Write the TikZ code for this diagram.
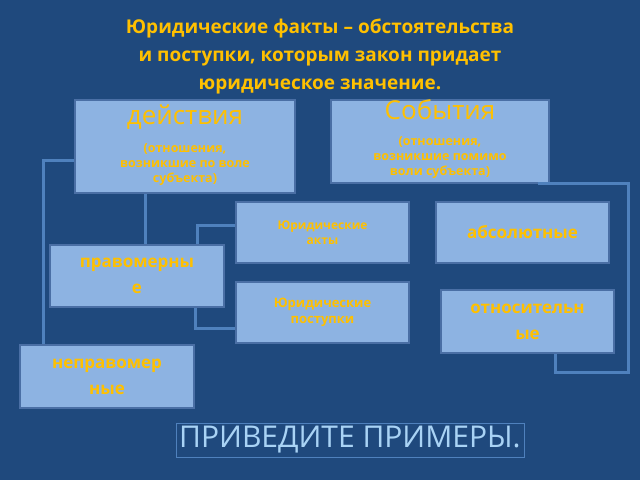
\documentclass[tikz,border=0pt]{standalone}
\usepackage{fontspec}
\setmainfont{Open Sans}
\definecolor{bg}{HTML}{1F497D}
\definecolor{bx}{HTML}{8DB3E2}
\definecolor{bd}{HTML}{4A6FA5}
\definecolor{gold}{HTML}{FFC000}
\definecolor{ln}{HTML}{4F81BD}
\definecolor{lb}{HTML}{A9D3F5}
\begin{document}
\begin{tikzpicture}[x=1pt,y=-1pt,
  box/.style={draw=bd,line width=1.5pt,fill=bx,text=gold,font=\bfseries,align=center,inner sep=0pt},
  con/.style={draw=ln,line width=3pt}]
\useasboundingbox[fill=bg] (0,0) rectangle (640,480);
\node[text=gold,font=\bfseries\fontsize{19}{28}\selectfont,align=center] (title) at (320,56)
 {Юридические факты – обстоятельства\\и поступки, которым закон придает\\юридическое значение.};
% boxes
\node[box,minimum width=220,minimum height=93] (d) at (185,146.5) {};
\node[text=gold,font=\fontsize{26}{26}\selectfont] (dt) at (185,117) {действия};
\node[text=gold,font=\bfseries\fontsize{12.5}{15}\selectfont,align=center] (ds) at (185,165) {(отношения,\\возникшие по воле\\субъекта)};
\node[box,minimum width=218,minimum height=83] (s) at (440,141.5) {};
\node[text=gold,font=\fontsize{26}{26}\selectfont] (st) at (440,110) {События};
\node[text=gold,font=\bfseries\fontsize{12.5}{15}\selectfont,align=center] (ss) at (440,158) {(отношения,\\возникшие помимо\\воли субъекта)};
\node[box,minimum width=173,minimum height=61,font=\bfseries\fontsize{12}{15}\selectfont] (ja) at (322.5,232.5) {Юридические\\акты};
\node[box,minimum width=173,minimum height=61,font=\bfseries\fontsize{17}{20}\selectfont] (ab) at (522.5,232.5) {абсолютные};
\node[box,minimum width=174,minimum height=62,font=\bfseries\fontsize{17}{26}\selectfont] (pr) at (137,276) {правомерны\\е};
\node[box,minimum width=173,minimum height=61,font=\bfseries\fontsize{13}{16}\selectfont] (jp) at (322.5,312.5) {Юридические\\поступки};
\node[box,minimum width=173,minimum height=63,font=\bfseries\fontsize{17}{26}\selectfont] (ot) at (527.5,321.5) {относительн\\ые};
\node[box,minimum width=174,minimum height=63,font=\bfseries\fontsize{17}{26}\selectfont] (np) at (107,376.5) {неправомер\\ные};
% connectors
\coordinate (c1) at (43,160);
\draw[con] (d.west |- c1) -- (c1) -- (np.north -| c1);
\draw[con] (d.south -| 145,0) -- (pr.north -| 145,0);
\draw[con] (pr.north -| 197,0) -- (197,225) -- (ja.west |- 0,225);
\draw[con] (pr.south -| 195,0) -- (195,328) -- (jp.west |- 0,328);
\draw[con] (538,183) -- (628,183) -- (628,372) -- (555,372) -- (ot.south -| 555,0);
\node[text=lb,draw=ln,line width=0.4pt,font=\fontsize{30}{30}\selectfont] (ex) at (350,440) {ПРИВЕДИТЕ ПРИМЕРЫ.};
\end{tikzpicture}
\end{document}
